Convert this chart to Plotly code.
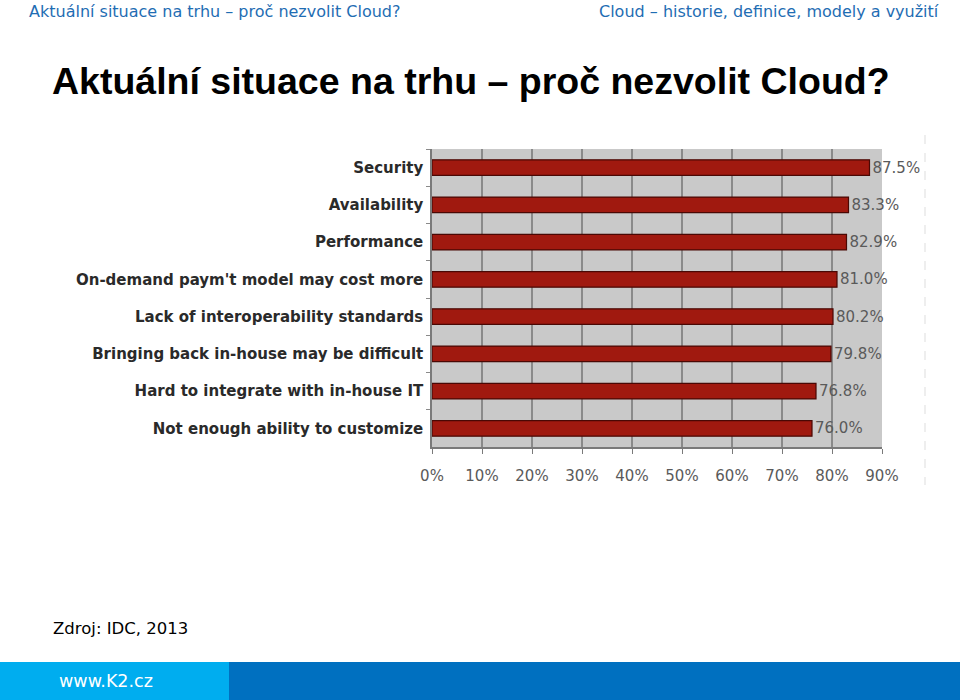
import plotly.graph_objects as go

categories = [
    "Security",
    "Availability",
    "Performance",
    "On-demand paym't model may cost more",
    "Lack of interoperability standards",
    "Bringing back in-house may be difficult",
    "Hard to integrate with in-house IT",
    "Not enough ability to customize",
]
values = [87.5, 83.3, 82.9, 81.0, 80.2, 79.8, 76.8, 76.0]
x_tick_values = [0, 10, 20, 30, 40, 50, 60, 70, 80, 90]
x_tick_labels = ["0%", "10%", "20%", "30%", "40%", "50%", "60%", "70%", "80%", "90%"]

header_left = "Aktuální situace na trhu – proč nezvolit Cloud?"
header_right = "Cloud – historie, definice, modely a využití"
title_text = "Aktuální situace na trhu – proč nezvolit Cloud?"
source_text = "Zdroj: IDC, 2013"
footer_text = "www.K2.cz"

W, H = 960, 700


def px_x(x):
    return x / W


def px_y(y):
    return 1 - y / H


fig = go.Figure()
fig.add_trace(go.Bar(
    y=categories,
    x=values,
    orientation="h",
    marker=dict(color="#a0190f", line=dict(color="#4a0804", width=1.2)),
    text=[f"{v:.1f}%" for v in values],
    textposition="outside",
    constraintext="none",
    textfont=dict(family="DejaVu Sans", size=15, color="#5a5a5a"),
    cliponaxis=False,
    hoverinfo="skip",
))

fig.update_layout(
    width=W,
    height=H,
    margin=dict(l=0, r=0, t=0, b=0, pad=0, autoexpand=False),
    paper_bgcolor="white",
    plot_bgcolor="#c9c9c9",
    showlegend=False,
    bargap=0.58,
    xaxis=dict(
        domain=[px_x(432), px_x(882)],
        range=[0, 90],
        tickvals=x_tick_values,
        ticktext=x_tick_labels,
        automargin=False,
        showgrid=True,
        gridcolor="#8a8a8a",
        gridwidth=1.5,
        zeroline=False,
        showline=True,
        linecolor="#7a7a7a",
        linewidth=1.5,
        ticks="outside",
        ticklen=5,
        tickcolor="#7a7a7a",
        ticklabelstandoff=9,
        tickfont=dict(family="DejaVu Sans", size=15, color="#5a5a5a"),
        fixedrange=True,
    ),
    yaxis=dict(
        domain=[px_y(447), px_y(149)],
        autorange="reversed",
        automargin=False,
        showgrid=False,
        showline=True,
        linecolor="#7a7a7a",
        linewidth=1.5,
        ticks="outside",
        tickson="boundaries",
        ticklen=4,
        tickcolor="#8a8a8a",
        ticklabelstandoff=4,
        tickfont=dict(family="DejaVu Sans", size=15, color="#2a2a2a", weight="bold"),
        fixedrange=True,
    ),
)

shapes = [
    dict(type="line", xref="paper", yref="paper", x0=px_x(925), x1=px_x(925),
         y0=px_y(135), y1=px_y(485), line=dict(color="#dddddd", width=1, dash="dash")),
    dict(type="rect", xref="paper", yref="paper", x0=0, x1=px_x(229), y0=0, y1=px_y(662),
         fillcolor="#00adef", line=dict(width=0), layer="below"),
    dict(type="rect", xref="paper", yref="paper", x0=px_x(229), x1=1, y0=0, y1=px_y(662),
         fillcolor="#0070c0", line=dict(width=0), layer="below"),
]
fig.update_layout(shapes=shapes)

annotations = [
    dict(text=header_left, x=px_x(27), y=px_y(12), xanchor="left", yanchor="middle",
         font=dict(family="DejaVu Sans", size=16, color="#1f6db3")),
    dict(text=header_right, x=px_x(941), y=px_y(12), xanchor="right", yanchor="middle",
         font=dict(family="DejaVu Sans", size=16, color="#1f6db3")),
    dict(text="<b>" + title_text + "</b>", x=px_x(50), y=px_y(81), xanchor="left", yanchor="middle",
         font=dict(family="Liberation Sans, Arial", size=37.5, color="#000000")),
    dict(text=source_text, x=px_x(51), y=px_y(628), xanchor="left", yanchor="middle",
         font=dict(family="DejaVu Sans", size=16.5, color="#000000")),
    dict(text=footer_text, x=px_x(57), y=px_y(681), xanchor="left", yanchor="middle",
         font=dict(family="DejaVu Sans", size=17.5, color="#ffffff")),
]
for a in annotations:
    a.update(xref="paper", yref="paper", showarrow=False)
fig.update_layout(annotations=annotations)

fig.write_html(
    "out.html",
    post_script="document.body.style.margin='0';document.body.style.overflow='hidden';",
)
